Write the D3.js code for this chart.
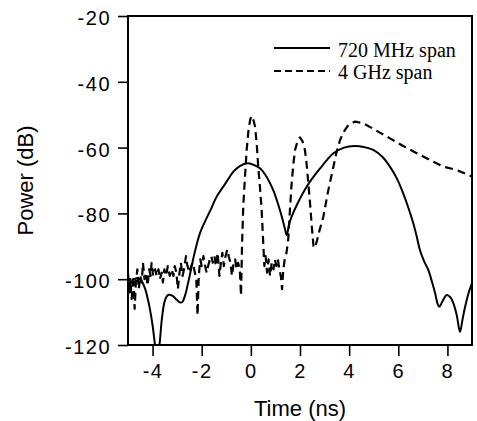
<!DOCTYPE html>
<html>
<head>
<meta charset="utf-8">
<script src="https://cdn.jsdelivr.net/npm/d3@7/dist/d3.min.js"></script>
<style>
  html, body { margin: 0; padding: 0; background: #fff; }
  svg { display: block; }
  .tick text { font-family: "Liberation Sans", Arial, sans-serif; }
</style>
</head>
<body>
<svg id="chart" width="477" height="421"></svg>
<script>
// ---- Data ----
const xTicks = [-4, -2, 0, 2, 4, 6, 8];
const yTicks = [-20, -40, -60, -80, -100, -120];
const xDomain = [-5, 9];
const yDomain = [-120, -20];
const seriesNames = ["720 MHz span", "4 GHz span"];
const xLabel = "Time (ns)";
const yLabel = "Power (dB)";

// 720 MHz span (solid): [time ns, power dB]
const span720 = [
  [-5.0,-104.5],[-4.9,-101.5],[-4.75,-100],[-4.6,-99.7],[-4.45,-100.5],[-4.3,-103],
  [-4.15,-107.5],[-4.0,-114],[-3.9,-120],[-3.81,-124],[-3.72,-120],[-3.62,-112],
  [-3.5,-106.5],[-3.37,-104.8],[-3.2,-105],[-3.05,-106],[-2.9,-107],[-2.8,-107],
  [-2.68,-105],[-2.55,-101],[-2.42,-96.5],[-2.29,-92],[-2.07,-86],[-1.85,-82.2],
  [-1.6,-78.3],[-1.39,-74.9],[-1.0,-70.5],[-0.71,-67.3],[-0.45,-65.6],[-0.17,-64.8],
  [0.1,-65.2],[0.37,-66.3],[0.65,-69],[0.91,-72.9],[1.1,-77],[1.26,-81],[1.38,-84.5],
  [1.46,-86.6],[1.55,-83.5],[1.66,-81],[1.9,-77],[2.27,-71.9],[2.8,-66.5],[3.36,-61.7],
  [3.8,-60],[4.2,-59.5],[4.6,-59.8],[4.98,-60.7],[5.35,-62.8],[5.66,-65.8],[5.95,-69.5],
  [6.2,-73.9],[6.42,-78.5],[6.61,-83],[6.75,-87],[6.88,-91.1],[7.05,-94.5],[7.22,-97.2],
  [7.38,-101],[7.5,-104.3],[7.6,-107.5],[7.67,-108.4],[7.78,-107],[7.97,-104.8],
  [8.12,-105.5],[8.24,-107.3],[8.38,-111],[8.51,-116],[8.62,-112],[8.72,-108.4],
  [8.85,-104.5],[9.0,-101.2]
];

// 4 GHz span (dashed): [time ns, power dB]
const span4G = [
  [-5.0,-98],[-4.95,-104],[-4.9,-100],[-4.85,-106],[-4.78,-99],[-4.73,-109],[-4.68,-101],
  [-4.62,-97],[-4.56,-103],[-4.5,-99],[-4.44,-101],[-4.39,-95],[-4.33,-100],[-4.27,-98],
  [-4.2,-102],[-4.14,-97],[-4.08,-99],[-4.04,-95],[-3.98,-99],[-3.9,-97],[-3.83,-99],
  [-3.76,-97],[-3.7,-100],[-3.63,-98],[-3.58,-101],[-3.52,-97],[-3.45,-99],[-3.38,-96],
  [-3.3,-99],[-3.22,-97],[-3.15,-99],[-3.1,-96],[-3.03,-98],[-2.97,-103],[-2.92,-99],
  [-2.85,-95],[-2.78,-99],[-2.72,-97],[-2.64,-93],[-2.58,-96],[-2.5,-98],[-2.43,-96],
  [-2.36,-95],[-2.28,-98],[-2.22,-100],[-2.17,-111],[-2.12,-99],[-2.06,-94],[-2.0,-96],
  [-1.93,-93],[-1.86,-96],[-1.8,-98],[-1.74,-96],[-1.67,-94],[-1.61,-93],[-1.55,-95],
  [-1.48,-93],[-1.42,-96],[-1.35,-92],[-1.28,-99],[-1.22,-95],[-1.16,-92],[-1.1,-96],
  [-1.03,-93],[-0.96,-91],[-0.9,-93],[-0.83,-95],[-0.77,-99],[-0.7,-95],[-0.64,-94],
  [-0.58,-97],[-0.52,-95],[-0.45,-97],[-0.4,-105],[-0.36,-90],[-0.31,-78],[-0.24,-69],
  [-0.17,-60.7],[-0.1,-55],[-0.03,-51.6],[0.03,-50.4],[0.1,-51.5],[0.17,-53.6],
  [0.24,-59],[0.3,-65.8],[0.37,-72],[0.44,-79],[0.51,-90],[0.55,-96],[0.6,-93],
  [0.66,-98],[0.72,-94],[0.78,-99],[0.85,-95],[0.92,-97],[0.98,-94],[1.04,-96],
  [1.1,-94],[1.16,-97],[1.22,-99],[1.27,-103],[1.32,-97],[1.38,-94],[1.45,-92],
  [1.52,-88],[1.59,-79],[1.66,-70.8],[1.73,-65],[1.8,-60.7],[1.9,-58],[2.0,-56.9],
  [2.1,-58],[2.2,-60.7],[2.27,-65],[2.34,-70.9],[2.41,-77],[2.48,-84],[2.55,-90],
  [2.61,-90.5],[2.7,-88],[2.8,-85],[2.95,-81],[3.15,-73],[3.36,-65.8],[3.5,-61],
  [3.63,-57.7],[3.8,-55],[3.97,-53.1],[4.24,-52.1],[4.58,-52.6],[5.1,-54.8],
  [5.66,-57.2],[6.2,-59.5],[6.75,-61.7],[7.3,-63.8],[7.83,-65.8],[8.38,-66.8],[8.99,-68.8]
];

// ---- Layout ----
const margin = { left: 128, right: 5, top: 16, bottom: 76 };
const W = 477, H = 421;
const svg = d3.select("#chart");
const x = d3.scaleLinear().domain(xDomain).range([margin.left, W - margin.right]);
const y = d3.scaleLinear().domain(yDomain).range([H - margin.bottom, margin.top]);

svg.append("defs").append("clipPath").attr("id", "clip")
  .append("rect")
  .attr("x", x(xDomain[0])).attr("y", y(yDomain[1]))
  .attr("width", x(xDomain[1]) - x(xDomain[0]))
  .attr("height", y(yDomain[0]) - y(yDomain[1]));

// Axes
const xAxis = d3.axisBottom(x).tickValues(xTicks).tickSize(11).tickSizeOuter(0).tickPadding(8)
  .tickFormat(d => String(d));
const yAxis = d3.axisLeft(y).tickValues(yTicks).tickSize(10).tickSizeOuter(0).tickPadding(7)
  .tickFormat(d => String(d));

const gx = svg.append("g").attr("transform", `translate(0,${y(yDomain[0])})`).call(xAxis);
const gy = svg.append("g").attr("transform", `translate(${x(xDomain[0])},0)`).call(yAxis);
[gx, gy].forEach(g => {
  g.select(".domain").remove();
  g.selectAll(".tick line").attr("stroke", "#000").attr("stroke-width", 1.6);
  g.selectAll(".tick text").attr("fill", "#000")
    .style("font-size", "20px").style("letter-spacing", "1.5px");
});
gy.selectAll(".tick text").attr("dy", "0.42em");
gx.selectAll(".tick text").attr("dy", "0.72em");

// Frame
svg.append("rect")
  .attr("x", x(xDomain[0])).attr("y", y(yDomain[1]))
  .attr("width", x(xDomain[1]) - x(xDomain[0]))
  .attr("height", y(yDomain[0]) - y(yDomain[1]))
  .attr("fill", "none").attr("stroke", "#000").attr("stroke-width", 2);

// Lines
const solidLine = d3.line().x(d => x(d[0])).y(d => y(d[1])).curve(d3.curveCatmullRom.alpha(0.5));
const dashLine = d3.line().x(d => x(d[0])).y(d => y(d[1])).curve(d3.curveLinear);

const plot = svg.append("g").attr("clip-path", "url(#clip)");
plot.append("path").datum(span720).attr("d", solidLine)
  .attr("fill", "none").attr("stroke", "#000").attr("stroke-width", 2);
plot.append("path").datum(span4G).attr("d", dashLine)
  .attr("fill", "none").attr("stroke", "#000").attr("stroke-width", 2.2)
  .attr("stroke-dasharray", "8,5").attr("stroke-linejoin", "round");

// Axis titles
svg.append("text")
  .attr("x", (x(xDomain[0]) + x(xDomain[1])) / 2).attr("y", 416)
  .attr("text-anchor", "middle")
  .style("font-family", "'Liberation Sans', Arial, sans-serif").style("font-size", "22px")
  .text(xLabel);
svg.append("text")
  .attr("transform", `translate(33,${(y(yDomain[0]) + y(yDomain[1])) / 2}) rotate(-90)`)
  .attr("text-anchor", "middle")
  .style("font-family", "'Liberation Sans', Arial, sans-serif").style("font-size", "22px")
  .text(yLabel);

// Legend
const legend = svg.append("g");
const legendRows = [
  { name: seriesNames[0], dash: null, yl: 48, yt: 57 },
  { name: seriesNames[1], dash: "7,4", yl: 71, yt: 79 }
];
legendRows.forEach(r => {
  legend.append("line").attr("x1", 274).attr("x2", 330).attr("y1", r.yl).attr("y2", r.yl)
    .attr("stroke", "#000").attr("stroke-width", 2)
    .attr("stroke-dasharray", r.dash);
  legend.append("text").attr("x", 338).attr("y", r.yt)
    .style("font-family", "'Liberation Serif', 'Times New Roman', serif").style("font-size", "20px")
    .text(r.name);
});
</script>
</body>
</html>
